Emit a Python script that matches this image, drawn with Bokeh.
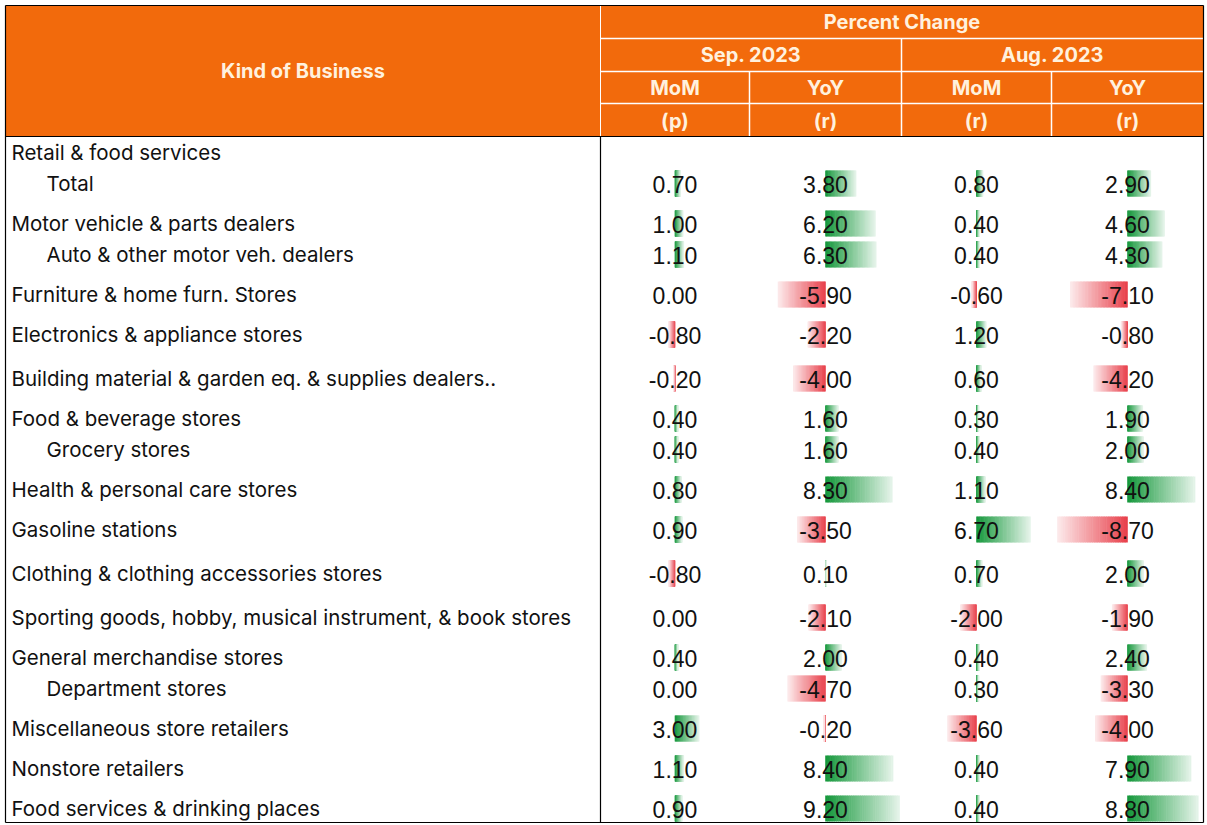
import numpy as np
from bokeh.plotting import figure
from bokeh.models import Range1d, ColumnDataSource
from bokeh.core.properties import value
from bokeh.embed import file_html
from bokeh.resources import INLINE

# ---------------- data ----------------
categories = [
    "Retail & food services", "Total", "Motor vehicle & parts dealers",
    "Auto & other motor veh. dealers", "Furniture & home furn. Stores",
    "Electronics & appliance stores",
    "Building material & garden eq. & supplies dealers..",
    "Food & beverage stores", "Grocery stores", "Health & personal care stores",
    "Gasoline stations", "Clothing & clothing accessories stores",
    "Sporting goods, hobby, musical instrument, & book stores",
    "General merchandise stores", "Department stores",
    "Miscellaneous store retailers", "Nonstore retailers",
    "Food services & drinking places",
]
indented = [False, True, False, True, False, False, False, False, True, False,
            False, False, False, False, True, False, False, False]
sep_mom = [None, 0.70, 1.00, 1.10, 0.00, -0.80, -0.20, 0.40, 0.40, 0.80, 0.90, -0.80, 0.00, 0.40, 0.00, 3.00, 1.10, 0.90]
sep_yoy = [None, 3.80, 6.20, 6.30, -5.90, -2.20, -4.00, 1.60, 1.60, 8.30, -3.50, 0.10, -2.10, 2.00, -4.70, -0.20, 8.40, 9.20]
aug_mom = [None, 0.80, 0.40, 0.40, -0.60, 1.20, 0.60, 0.30, 0.40, 1.10, 6.70, 0.70, -2.00, 0.40, 0.30, -3.60, 0.40, 0.40]
aug_yoy = [None, 2.90, 4.60, 4.30, -7.10, -0.80, -4.20, 1.90, 2.00, 8.40, -8.70, 2.00, -1.90, 2.40, -3.30, -4.00, 7.90, 8.80]
series = [sep_mom, sep_yoy, aug_mom, aug_yoy]
periods = ["Sep. 2023", "Aug. 2023"]
measures = ["MoM", "YoY", "MoM", "YoY"]
status = ["(p)", "(r)", "(r)", "(r)"]

# ---------------- layout (reference pixel units) ----------------
W, H = 1207, 825
col_edges = [600, 749, 901, 1051, 1203]
hdr_rows = [5, 38, 71, 103, 136]
row_y = [152, 183, 223, 254, 294, 334, 378, 418, 449, 489, 529, 573, 617, 657, 688, 728, 768, 808]
bar_h = 26
ORANGE = "#F26A0C"
HDR_TXT = "#FFF1DE"
GREEN = (22, 152, 60)
RED = (232, 64, 75)
LABEL_FONT = "Inter"
NUM_FONT = "Liberation Sans"

p = figure(width=W, height=H, x_range=Range1d(0, W), y_range=Range1d(H, 0),
           output_backend="svg", toolbar_location=None, min_border=0)
p.axis.visible = False
p.grid.visible = False
p.outline_line_color = None
p.background_fill_color = "white"

# header background
p.quad(left=[5], right=[col_edges[-1]], top=[hdr_rows[0]], bottom=[hdr_rows[-1]],
       fill_color=ORANGE, line_color=None)
# white separators in header
p.segment(x0=[600, 600, 600], x1=[1203, 1203, 1203], y0=hdr_rows[1:4], y1=hdr_rows[1:4],
          line_color="white", line_width=1.5)
p.segment(x0=[901, 749, 1051], x1=[901, 749, 1051], y0=[38, 71, 71], y1=[136, 136, 136],
          line_color="white", line_width=1.5)
p.segment(x0=[600], x1=[600], y0=[5], y1=[136], line_color="white", line_width=1)

# header text
hdr_font = dict(text_font=value(LABEL_FONT), text_font_style="bold", text_color=HDR_TXT,
                text_align="center", text_baseline="middle", text_font_size="20px")
p.text(x=[(5 + 600) / 2], y=[70], text=["Kind of Business"], **hdr_font)
p.text(x=[(600 + 1203) / 2], y=[21], text=["Percent Change"], **hdr_font)
p.text(x=[(600 + 901) / 2, (901 + 1203) / 2], y=[54, 54], text=periods, **hdr_font)
centers = [(col_edges[i] + col_edges[i + 1]) / 2 for i in range(4)]
p.text(x=centers, y=[87] * 4, text=measures, **hdr_font)
p.text(x=centers, y=[120] * 4, text=status, **hdr_font)


def blend(rgb, a):
    r, g, b = (int(round(c * a + 255 * (1 - a))) for c in rgb)
    return f"#{r:02x}{g:02x}{b:02x}"


# data bars (gradient simulated by opaque segments)
all_vals = [abs(v) for s in series for v in s if v is not None]
half = 74.0
scale = half / max(all_vals)
N = 40
L, R, T, B, C = [], [], [], [], []
for ci, s in enumerate(series):
    cx = centers[ci]
    for ri, v in enumerate(s):
        if v is None or v == 0:
            continue
        length = v * scale
        base = GREEN if v > 0 else RED
        for k in range(N):
            a0 = cx + length * k / N
            a1 = cx + length * (k + 1) / N
            L.append(min(a0, a1) - 0.3)
            R.append(max(a0, a1) + 0.3)
            T.append(row_y[ri] - bar_h / 2)
            B.append(row_y[ri] + bar_h / 2)
            C.append(blend(base, 1.0 - 0.88 * k / (N - 1)))
bars = ColumnDataSource(dict(left=L, right=R, top=T, bottom=B, color=C))
p.quad(left="left", right="right", top="top", bottom="bottom", fill_color="color",
       line_color=None, source=bars)

# row labels
lx = [46 if ind else 11 for ind in indented]
p.text(x=lx, y=row_y, text=categories, text_font=value(LABEL_FONT), text_font_size="20.5px",
       text_color="#111111", text_align="left", text_baseline="middle")

# numbers
nx, ny, nt = [], [], []
for ci, s in enumerate(series):
    for ri, v in enumerate(s):
        if v is None:
            continue
        nx.append(centers[ci])
        ny.append(row_y[ri] + 1)
        nt.append(f"{v:.2f}")
p.text(x=nx, y=ny, text=nt, text_font=value(NUM_FONT), text_font_size="23px",
       text_color="#111111", text_align="center", text_baseline="middle")

# borders
p.segment(x0=[5, 5, 5, 1203, 600, 5], x1=[1203, 1203, 5, 1203, 600, 1203],
          y0=[5, 136, 5, 5, 136, 822], y1=[5, 136, 822, 822, 822, 822],
          line_color="black", line_width=1.2)

open("out.html", "w").write(file_html(p, INLINE))
